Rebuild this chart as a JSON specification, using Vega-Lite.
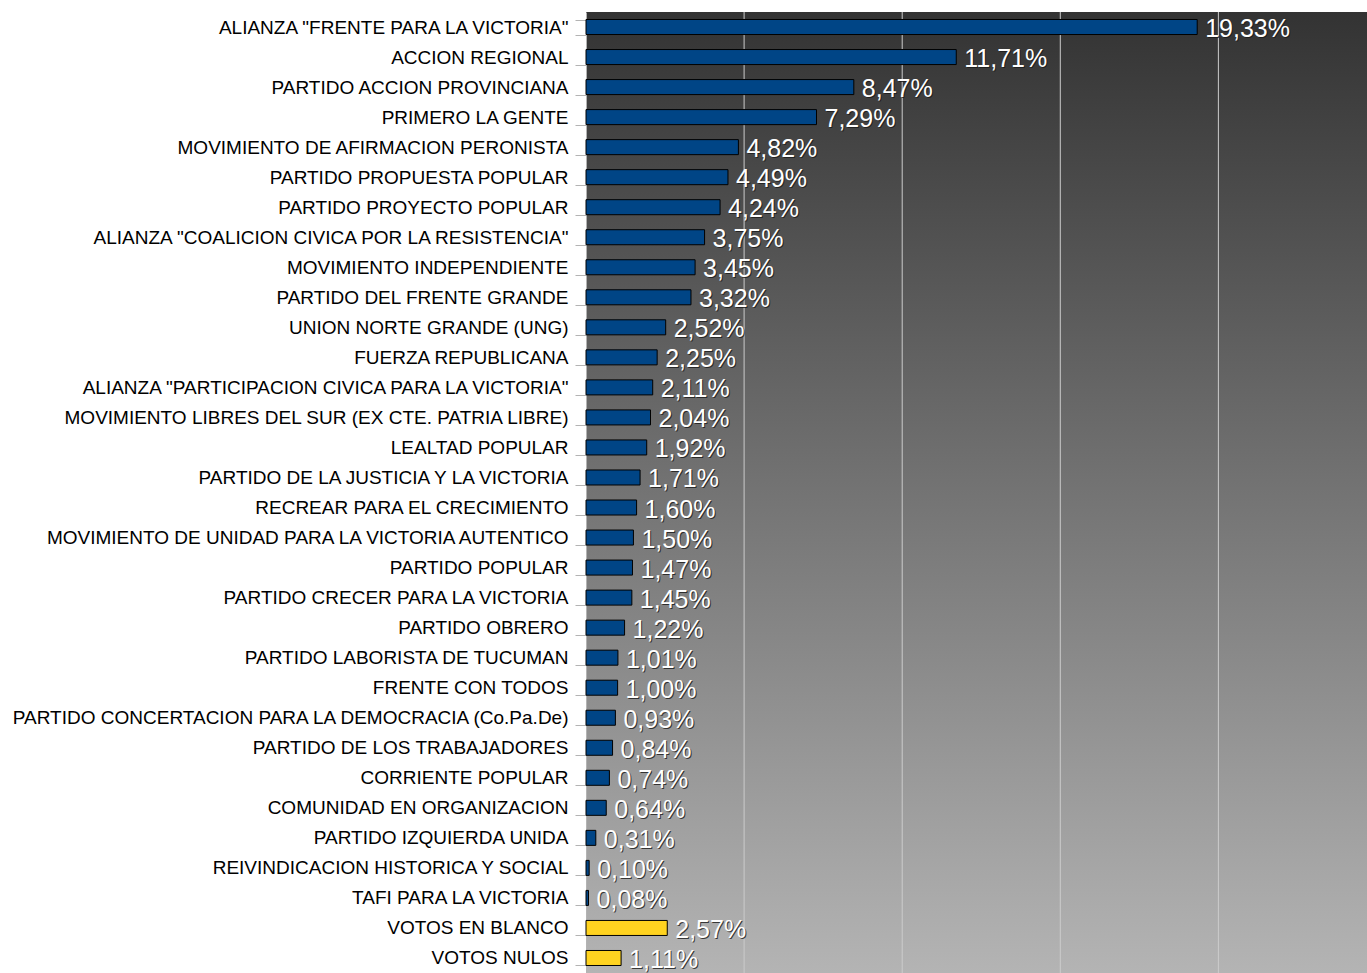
{
  "$schema": "https://vega.github.io/schema/vega-lite/v6.json",
  "autosize": "none",
  "padding": {"left": 586, "top": 12, "right": 0, "bottom": 0},
  "width": 781,
  "height": 961,
  "background": "white",
  "config": {
    "font": "Liberation Sans",
    "view": {
      "stroke": null,
      "fill": {
        "gradient": "linear",
        "x1": 0, "y1": 0, "x2": 0, "y2": 1,
        "stops": [
          {"offset": 0, "color": "#333333"},
          {"offset": 1, "color": "#b4b4b4"}
        ]
      }
    }
  },
  "data": {
    "values": [
      {"party": "ALIANZA \"FRENTE PARA LA VICTORIA\"", "pct": 19.33, "label": "19,33%", "kind": "partido"},
      {"party": "ACCION REGIONAL", "pct": 11.71, "label": "11,71%", "kind": "partido"},
      {"party": "PARTIDO ACCION PROVINCIANA", "pct": 8.47, "label": "8,47%", "kind": "partido"},
      {"party": "PRIMERO LA GENTE", "pct": 7.29, "label": "7,29%", "kind": "partido"},
      {"party": "MOVIMIENTO DE AFIRMACION PERONISTA", "pct": 4.82, "label": "4,82%", "kind": "partido"},
      {"party": "PARTIDO PROPUESTA POPULAR", "pct": 4.49, "label": "4,49%", "kind": "partido"},
      {"party": "PARTIDO PROYECTO POPULAR", "pct": 4.24, "label": "4,24%", "kind": "partido"},
      {"party": "ALIANZA \"COALICION CIVICA POR LA RESISTENCIA\"", "pct": 3.75, "label": "3,75%", "kind": "partido"},
      {"party": "MOVIMIENTO INDEPENDIENTE", "pct": 3.45, "label": "3,45%", "kind": "partido"},
      {"party": "PARTIDO DEL FRENTE GRANDE", "pct": 3.32, "label": "3,32%", "kind": "partido"},
      {"party": "UNION NORTE GRANDE (UNG)", "pct": 2.52, "label": "2,52%", "kind": "partido"},
      {"party": "FUERZA REPUBLICANA", "pct": 2.25, "label": "2,25%", "kind": "partido"},
      {"party": "ALIANZA \"PARTICIPACION CIVICA PARA LA VICTORIA\"", "pct": 2.11, "label": "2,11%", "kind": "partido"},
      {"party": "MOVIMIENTO LIBRES DEL SUR (EX CTE. PATRIA LIBRE)", "pct": 2.04, "label": "2,04%", "kind": "partido"},
      {"party": "LEALTAD POPULAR", "pct": 1.92, "label": "1,92%", "kind": "partido"},
      {"party": "PARTIDO DE LA JUSTICIA Y LA VICTORIA", "pct": 1.71, "label": "1,71%", "kind": "partido"},
      {"party": "RECREAR PARA EL CRECIMIENTO", "pct": 1.60, "label": "1,60%", "kind": "partido"},
      {"party": "MOVIMIENTO DE UNIDAD PARA LA VICTORIA AUTENTICO", "pct": 1.50, "label": "1,50%", "kind": "partido"},
      {"party": "PARTIDO POPULAR", "pct": 1.47, "label": "1,47%", "kind": "partido"},
      {"party": "PARTIDO CRECER PARA LA VICTORIA", "pct": 1.45, "label": "1,45%", "kind": "partido"},
      {"party": "PARTIDO OBRERO", "pct": 1.22, "label": "1,22%", "kind": "partido"},
      {"party": "PARTIDO LABORISTA DE TUCUMAN", "pct": 1.01, "label": "1,01%", "kind": "partido"},
      {"party": "FRENTE CON TODOS", "pct": 1.00, "label": "1,00%", "kind": "partido"},
      {"party": "PARTIDO CONCERTACION PARA LA DEMOCRACIA (Co.Pa.De)", "pct": 0.93, "label": "0,93%", "kind": "partido"},
      {"party": "PARTIDO DE LOS TRABAJADORES", "pct": 0.84, "label": "0,84%", "kind": "partido"},
      {"party": "CORRIENTE POPULAR", "pct": 0.74, "label": "0,74%", "kind": "partido"},
      {"party": "COMUNIDAD EN ORGANIZACION", "pct": 0.64, "label": "0,64%", "kind": "partido"},
      {"party": "PARTIDO IZQUIERDA UNIDA", "pct": 0.31, "label": "0,31%", "kind": "partido"},
      {"party": "REIVINDICACION HISTORICA Y SOCIAL", "pct": 0.10, "label": "0,10%", "kind": "partido"},
      {"party": "TAFI PARA LA VICTORIA", "pct": 0.08, "label": "0,08%", "kind": "partido"},
      {"party": "VOTOS EN BLANCO", "pct": 2.57, "label": "2,57%", "kind": "otro"},
      {"party": "VOTOS NULOS", "pct": 1.11, "label": "1,11%", "kind": "otro"}
    ]
  },
  "encoding": {
    "y": {
      "field": "party",
      "type": "nominal",
      "sort": null,
      "scale": {"paddingInner": 0.5, "paddingOuter": 0.25},
      "axis": {
        "title": null,
        "labelFont": "Liberation Sans",
        "labelFontSize": 19,
        "labelColor": "#000000",
        "labelPadding": 7,
        "labelOffset": 0,
        "labelLimit": 700,
        "tickSize": 11,
        "tickColor": "#b3b3b3",
        "tickBand": "extent",
        "domainColor": "#b3b3b3",
        "grid": false
      }
    },
    "x": {
      "field": "pct",
      "type": "quantitative",
      "scale": {"domain": [0, 24.7], "nice": false, "zero": true},
      "axis": null
    }
  },
  "layer": [
    {
      "mark": {"type": "rule", "color": "#cccccc", "strokeWidth": 1},
      "data": {"values": [{"g": 5}, {"g": 10}, {"g": 15}, {"g": 20}]},
      "encoding": {
        "x": {"field": "g", "type": "quantitative", "axis": {"orient": "top", "title": null, "labels": false, "ticks": false, "grid": false, "domain": true, "domainColor": "#b3b3b3"}},
        "y": null
      }
    },
    {
      "mark": {"type": "bar", "stroke": "#000000", "strokeWidth": 1},
      "encoding": {
        "color": {
          "field": "kind",
          "type": "nominal",
          "scale": {"domain": ["partido", "otro"], "range": ["#004586", "#ffd320"]},
          "legend": null
        }
      }
    },
    {
      "mark": {"type": "text", "align": "left", "baseline": "middle", "dx": 9, "dy": 3, "fontSize": 25, "font": "Liberation Sans", "color": "#1a1a1a", "opacity": 0.8},
      "encoding": {"text": {"field": "label"}}
    },
    {
      "mark": {"type": "text", "align": "left", "baseline": "middle", "dx": 8, "dy": 2, "fontSize": 25, "font": "Liberation Sans", "color": "#ffffff"},
      "encoding": {"text": {"field": "label"}}
    }
  ]
}
